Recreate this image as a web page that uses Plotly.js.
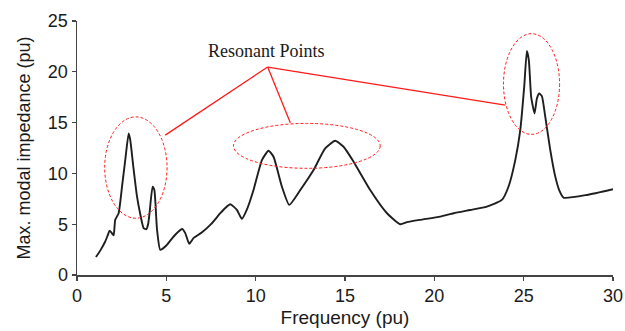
<!DOCTYPE html>
<html>
<head>
<meta charset="utf-8">
<script src="https://cdn.plot.ly/plotly-3.0.1.min.js"></script>
<style>html,body{margin:0;padding:0;background:#fff;}#chart{width:625px;height:331px;}</style>
</head>
<body>
<div id="chart"></div>
<script>
// Frequency (pu)
var frequency = [1.06, 1.30, 1.58, 1.72, 1.82, 1.92, 2.05, 2.14, 2.33, 2.52, 2.70, 2.89, 2.98, 3.15, 3.36, 3.55, 3.73, 3.88, 3.98, 4.06, 4.23, 4.33, 4.48, 4.66, 5.00, 5.41, 5.70, 5.88, 6.06, 6.28, 6.52, 7.00, 7.50, 8.02, 8.30, 8.58, 8.95, 9.23, 9.50, 9.88, 10.35, 10.72, 11.00, 11.47, 11.88, 12.50, 13.24, 13.89, 14.45, 14.92, 15.48, 16.41, 17.35, 18.09, 18.47, 19.21, 20.33, 21.08, 22.00, 22.94, 23.78, 24.15, 24.53, 24.81, 25.03, 25.18, 25.29, 25.42, 25.61, 25.74, 25.87, 26.02, 26.21, 26.49, 26.77, 27.00, 27.23, 28.54, 30.00];
// Max. modal impedance (pu)
var impedance = [1.77, 2.40, 3.30, 3.90, 4.35, 4.20, 3.90, 5.43, 6.08, 8.69, 11.30, 13.94, 13.30, 10.70, 7.71, 5.90, 4.61, 4.51, 5.00, 6.08, 8.69, 8.37, 4.45, 2.48, 2.90, 3.79, 4.30, 4.54, 4.12, 3.07, 3.63, 4.20, 5.00, 6.08, 6.60, 6.97, 6.41, 5.52, 6.40, 8.37, 11.31, 12.23, 11.64, 8.69, 6.90, 8.37, 10.33, 12.46, 13.21, 12.62, 11.15, 8.37, 6.08, 5.00, 5.20, 5.43, 5.75, 6.08, 6.40, 6.73, 7.39, 8.69, 11.31, 14.26, 18.51, 22.04, 21.13, 17.53, 15.90, 17.37, 17.86, 17.60, 15.56, 12.30, 9.68, 8.30, 7.62, 7.88, 8.44];
var xTicks = [0, 5, 10, 15, 20, 25, 30];
var yTicks = [0, 5, 10, 15, 20, 25];
var annotationText = "Resonant Points";

var trace = {
  x: frequency, y: impedance, type: 'scatter', mode: 'lines',
  line: {color: '#1e1e1e', width: 1.9, shape: 'spline', smoothing: 0.5}, hoverinfo: 'skip'
};

var red = '#ff1a1a';
function ell(x0, x1, y0, y1) {
  return {type: 'circle', xref: 'x', yref: 'y', x0: x0, x1: x1, y0: y0, y1: y1,
    line: {color: red, width: 1, dash: '3px,2px'}};
}
function seg(x0, y0, x1, y1) {
  return {type: 'line', xref: 'x', yref: 'y', x0: x0, y0: y0, x1: x1, y1: y1,
    line: {color: red, width: 1.3}};
}

var layout = {
  width: 625, height: 331,
  margin: {l: 77, r: 12, t: 21, b: 56},
  paper_bgcolor: '#fff', plot_bgcolor: '#fff',
  showlegend: false,
  font: {family: 'Liberation Sans, Arial, sans-serif', color: '#1a1a1a'},
  xaxis: {
    range: [0, 30], tickvals: xTicks, ticktext: xTicks.map(String),
    showgrid: false, zeroline: false, showline: true, linecolor: '#444', linewidth: 1.5,
    ticks: 'outside', ticklen: 4, tickwidth: 1.3, tickcolor: '#444',
    tickfont: {size: 18, color: '#1a1a1a'},
    title: {text: 'Frequency (pu)', font: {size: 19, color: '#1a1a1a'}, standoff: 5}
  },
  yaxis: {
    range: [0, 25], tickvals: yTicks, ticktext: yTicks.map(String),
    showgrid: false, zeroline: false, showline: true, linecolor: '#444', linewidth: 1.5,
    ticks: 'outside', ticklen: 4, tickwidth: 1.3, tickcolor: '#444',
    tickfont: {size: 18, color: '#1a1a1a'},
    title: {text: 'Max. modal impedance (pu)', font: {size: 18, color: '#1a1a1a'}, standoff: 12}
  },
  shapes: [
    ell(1.55, 5.04, 5.59, 15.56),
    ell(8.76, 16.97, 10.50, 14.92),
    ell(23.87, 27.01, 13.84, 23.75),
    seg(10.67, 20.47, 4.94, 13.77),
    seg(10.67, 20.47, 11.94, 14.98),
    seg(10.67, 20.47, 23.97, 16.71)
  ],
  annotations: [{
    x: 10.59, y: 22.0, xref: 'x', yref: 'y', text: annotationText, showarrow: false,
    xanchor: 'center', yanchor: 'middle',
    font: {family: 'Liberation Serif, Times New Roman, serif', size: 18, color: '#1a1a1a'}
  }]
};

Plotly.newPlot('chart', [trace], layout, {staticPlot: true, displayModeBar: false});
</script>
</body>
</html>
